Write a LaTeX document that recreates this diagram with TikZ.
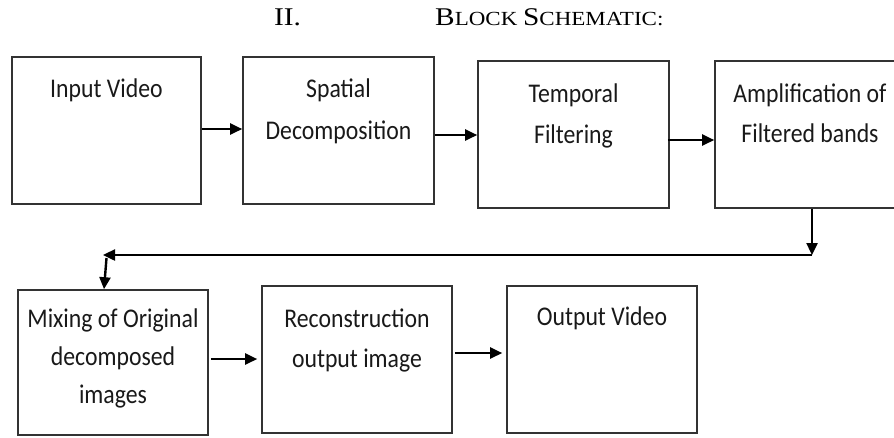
\documentclass[tikz,border=0pt]{standalone}
\usepackage{fontspec}
\usetikzlibrary{arrows.meta,calc}
\newfontfamily\boxfont[FakeStretch=0.88]{Carlito}
\newfontfamily\titlefont[FakeStretch=1.15]{Liberation Serif}
\newcommand{\bigT}{\fontsize{25.5}{26}\selectfont}
\newcommand{\smallT}{\fontsize{20}{20}\selectfont}
\begin{document}
\begin{tikzpicture}[x=1pt,y=-1pt,
  box/.style={draw=black!80,line width=1.6pt,rectangle,inner sep=0pt},
  lbl/.style={font=\boxfont\fontsize{27}{30}\selectfont,text=black!90,anchor=base,inner sep=0pt},
  arr/.style={line width=2.4pt,-{Triangle[length=12pt,width=11pt]}},
  ln/.style={line width=2.4pt}]
\useasboundingbox (0,0) rectangle (894,437);
% title
\node[font=\titlefont\bigT,anchor=base,inner sep=0pt] (num) at (287.5,25) {II.};
\node[font=\titlefont,anchor=base west,inner sep=0pt] (ttl) at (435,25) {\bigT B\smallT LOCK \bigT S\smallT CHEMATIC:};
% boxes
\node[box,minimum width=189pt,minimum height=147pt] (b1) at (106.5,130.5) {};
\node[box,minimum width=191pt,minimum height=147pt] (b2) at (338.5,130.5) {};
\node[box,minimum width=191pt,minimum height=147pt] (b3) at (573.5,134.5) {};
\node[box,minimum width=185pt,minimum height=147pt] (b4) at (807.5,134.5) {};
\node[box,minimum width=190pt,minimum height=145pt] (b5) at (113,362.5) {};
\node[box,minimum width=190pt,minimum height=147pt] (b6) at (357,359.5) {};
\node[box,minimum width=190pt,minimum height=147pt] (b7) at (602,359.5) {};
% texts
\node[lbl] (t1) at (106.5,97) {Input Video};
\node[lbl] (t2a) at (338.5,97) {Spatial};
\node[lbl] (t2b) at (338.5,139) {Decomposition};
\node[lbl] (t3a) at (573.5,102) {Temporal};
\node[lbl] (t3b) at (573.5,143) {Filtering};
\node[lbl] (t4a) at (810,102) {Amplification of};
\node[lbl] (t4b) at (810,142) {Filtered bands};
\node[lbl] (t5a) at (113,327) {Mixing of Original};
\node[lbl] (t5b) at (113,365) {decomposed};
\node[lbl] (t5c) at (113,403) {images};
\node[lbl] (t6a) at (357,327) {Reconstruction};
\node[lbl] (t6b) at (357,367) {output image};
\node[lbl] (t7) at (602,325) {Output Video};
% arrows top row
\coordinate (s1) at ([yshift=1.5pt]b1.east);
\draw[arr] (s1) -- (b2.west |- s1);
\coordinate (s2) at ([yshift=-4.5pt]b2.east);
\draw[arr] (s2) -- (b3.west |- s2);
\coordinate (s3) at ([yshift=-5.5pt]b3.east);
\draw[arr] ([xshift=-2pt]s3) -- (b4.west |- s3);
% feedback
\coordinate (fx) at (812,255);
\coordinate (fl) at (103,255);
\coordinate (fs) at (106.5,258);
\draw[arr] (b4.south -| fx) -- (fx);
\draw[arr] (fx) -- (fl);
\draw[arr] (fs) -- ($(b5.north -| fs)+(-2.5,0)$);
% arrows bottom row
\coordinate (s4) at ([yshift=3.5pt]b5.east);
\draw[arr,shorten >=4pt] ([xshift=2pt]s4) -- (b6.west |- s4);
\coordinate (s5) at ([yshift=6.5pt]b6.east);
\draw[arr,shorten >=4pt] ([xshift=2pt]s5) -- (b7.west |- s5);
\end{tikzpicture}
\end{document}
